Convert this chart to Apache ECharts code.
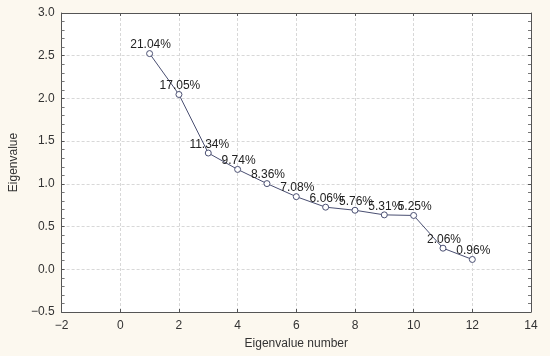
<!DOCTYPE html>
<html><head><meta charset="utf-8">
<script src="https://cdn.jsdelivr.net/npm/echarts@6/dist/echarts.min.js"></script>
<style>html,body{margin:0;padding:0;background:#fcf8ef;}#c{width:550px;height:356px;}</style>
</head><body><div id="c"></div>
<script>
var eigenNumbers = [1,2,3,4,5,6,7,8,9,10,11,12];
var eigenValues = [2.525, 2.046, 1.361, 1.169, 1.003, 0.850, 0.727, 0.691, 0.637, 0.630, 0.247, 0.115];
var pctLabels = ['21.04%','17.05%','11.34%','9.74%','8.36%','7.08%','6.06%','5.76%','5.31%','5.25%','2.06%','0.96%'];
var xTicks = [-2,0,2,4,6,8,10,12,14];
var yTicks = [-0.5,0,0.5,1,1.5,2,2.5,3];

var font = 'Liberation Sans, Arial, sans-serif';
var axisCol = '#555';
var gridLine = {show:true, lineStyle:{color:'#d8d8d8', type:[3,2], width:1}};
var data = eigenNumbers.map(function(n,i){return [n, eigenValues[i], pctLabels[i]];});
var chart = echarts.init(document.getElementById('c'), null, {renderer:'canvas'});
chart.setOption({
  backgroundColor: '#fcf8ef',
  animation: false,
  grid: {left:56, right:19, top:13, bottom:44, show:true, backgroundColor:'#ffffff', borderWidth:0},
  xAxis: [{
    type:'value', min:xTicks[0], max:xTicks[xTicks.length-1], interval:2,
    name:'Eigenvalue number', nameLocation:'middle', nameGap:26,
    nameTextStyle:{fontFamily:font, fontSize:12, color:'#333'},
    axisLine:{onZero:false, lineStyle:{color:axisCol, width:1}},
    axisTick:{inside:true, length:3, lineStyle:{color:axisCol}},
    axisLabel:{fontFamily:font, fontSize:12, color:'#333', margin:8,
      formatter:function(v){return v<0?'\u2212'+Math.abs(v):String(v);}},
    splitLine:gridLine
  },{
    type:'value', position:'top', min:xTicks[0], max:xTicks[xTicks.length-1], interval:2,
    axisLine:{show:true, onZero:false, lineStyle:{color:axisCol}},
    axisTick:{show:true, inside:true, length:3, lineStyle:{color:axisCol}},
    axisLabel:{show:false}, splitLine:{show:false}
  }],
  yAxis: [{
    type:'value', min:yTicks[0], max:yTicks[yTicks.length-1], interval:0.5,
    name:'Eigenvalue', nameLocation:'middle', nameGap:38,
    nameTextStyle:{fontFamily:font, fontSize:12, color:'#333'},
    axisLine:{show:true, onZero:false, lineStyle:{color:axisCol}},
    axisTick:{show:true, inside:true, length:3, lineStyle:{color:axisCol}},
    minorTick:{show:true, splitNumber:5, length:3, lineStyle:{color:'#777'}},
    axisLabel:{fontFamily:font, fontSize:12, color:'#333', margin:7,
      formatter:function(v){var s=v.toFixed(1); return v<0?'\u2212'+s.slice(1):s;}},
    splitLine:gridLine
  },{
    type:'value', position:'right', min:yTicks[0], max:yTicks[yTicks.length-1], interval:0.5,
    axisLine:{show:true, onZero:false, lineStyle:{color:axisCol}},
    axisTick:{show:true, inside:true, length:3, lineStyle:{color:axisCol}},
    minorTick:{show:true, splitNumber:5, length:3, lineStyle:{color:'#777'}},
    axisLabel:{show:false}, splitLine:{show:false}
  }],
  series: [{
    type:'line', data:data, xAxisIndex:0, yAxisIndex:0,
    symbol:'circle', symbolSize:6,
    lineStyle:{color:'#4a4f72', width:1},
    itemStyle:{color:'#ffffff', borderColor:'#4a4f72', borderWidth:1},
    label:{show:true, position:'top', distance:1, offset:[1,2],
      fontFamily:font, fontSize:12, color:'#222',
      formatter:function(p){return p.data[2];}}
  }]
});
</script></body></html>
